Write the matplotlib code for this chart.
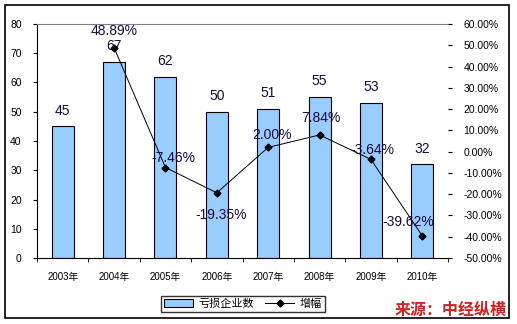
import numpy as np
import matplotlib
matplotlib.use('Agg')
import matplotlib.pyplot as plt
from matplotlib.patches import Rectangle
from matplotlib.ticker import FuncFormatter

plt.rcParams['font.family'] = ['Liberation Sans', 'Noto Sans CJK SC']

years = ['2003年', '2004年', '2005年', '2006年', '2007年', '2008年', '2009年', '2010年']
loss_count = [45, 67, 62, 50, 51, 55, 53, 32]
growth = [np.nan, 48.89, -7.46, -19.35, 2.00, 7.84, -3.64, -39.62]
growth_labels = ['', '48.89%', '-7.46%', '-19.35%', '2.00%', '7.84%', '-3.64%', '-39.62%']

# label offsets in points (style only)
offs = [(0, 0), (0, 12), (6, 7), (3, -16), (3, 9), (1, 12), (1, 7), (-10, 10)]

fig = plt.figure(figsize=(5.17, 3.24), dpi=100)
ax = fig.add_axes([37/517, 66/324, 411/517, 234/324])
x = np.arange(len(years))

ax.bar(x, loss_count, width=0.43, color='#99CCFF', edgecolor='black', linewidth=0.8,
       label='亏损企业数', zorder=2)
for i, v in enumerate(loss_count):
    ax.text(i, v + 3, str(v), ha='center', va='bottom', fontsize=10, color='#1a0a3a')

ax.set_xlim(-0.5, len(years) - 0.5)
ax.set_ylim(0, 80)
ax.set_yticks(range(0, 81, 10))
ax.set_xticks(x)
ax.set_xticklabels(years, fontsize=7)
ax.set_xticks(np.arange(-0.5, len(years), 1), minor=True)
ax.tick_params(axis='x', which='major', length=0, pad=10)
ax.tick_params(axis='x', which='minor', length=3, direction='out')
ax.tick_params(axis='y', labelsize=7.5, length=3, direction='out', pad=8)
ax.spines['top'].set_color('#808080')
ax.spines['right'].set_visible(False)

ax2 = ax.twinx()
ax2.plot(x, growth, color='black', linewidth=0.7, marker='D', markersize=3.5,
         label='增幅', zorder=3)
for i, (g, t) in enumerate(zip(growth, growth_labels)):
    if t:
        ax2.annotate(t, (i, g), xytext=offs[i], textcoords='offset points',
                     ha='center', va='center', fontsize=10, color='#1a0a3a')
ax2.set_ylim(-50, 60)
ax2.set_yticks(range(-50, 61, 10))
ax2.yaxis.set_major_formatter(FuncFormatter(lambda v, p: '%.2f%%' % v))
ax2.tick_params(axis='y', labelsize=7.5, length=3, direction='out', pad=8)
ax2.spines['top'].set_visible(False)
ax2.spines['left'].set_visible(False)
ax2.spines['bottom'].set_visible(False)
ax2.spines['right'].set_visible(False)

h1, l1 = ax.get_legend_handles_labels()
h2, l2 = ax2.get_legend_handles_labels()
leg = fig.legend(h1 + h2, l1 + l2, loc='center', bbox_to_anchor=(243/517, 1 - 304/324),
                 ncol=2, fontsize=8, frameon=True, fancybox=False, edgecolor='black',
                 borderpad=0.3, handlelength=2.6, handletextpad=0.5, columnspacing=1.0)
leg.get_frame().set_linewidth(1.0)

fig.patches.append(Rectangle((5/517, 6/324), 504/517, 313/324, transform=fig.transFigure,
                             fill=False, edgecolor='black', linewidth=1.2))
fig.text(451/517, 1 - 310/324, '来源：中经纵横', ha='center', va='center', fontsize=11.5,
         color='#CC2222', fontweight='bold', style='italic')

fig.savefig('out.png', dpi=100)
